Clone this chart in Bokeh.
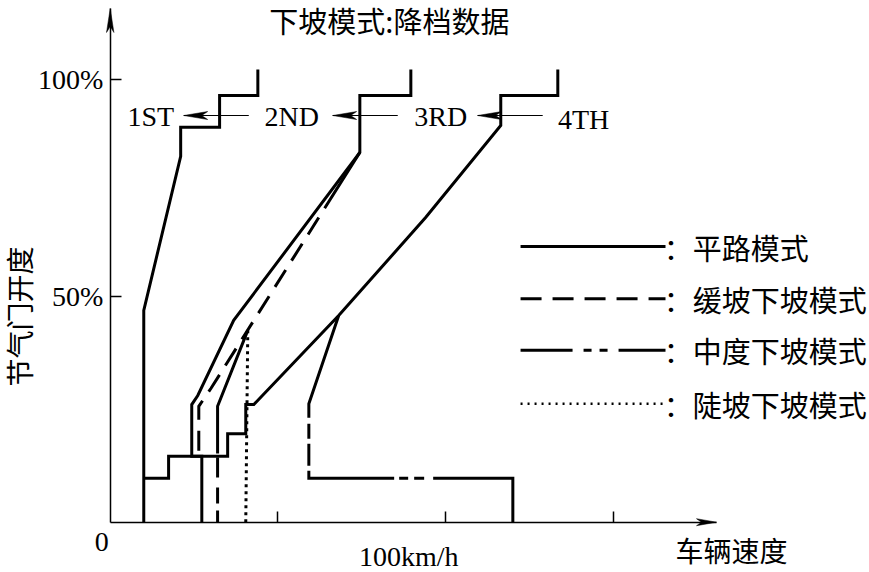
import math
from bokeh.plotting import figure
from bokeh.models import Range1d, FixedTicker, Label, LinearAxis
from bokeh.embed import file_html
from bokeh.resources import INLINE

# ---------------- data (x: vehicle speed km/h, y: throttle opening %) ----------------
# flat-road mode (solid)
flat_21_x = [44.0, 44.0, 32.6, 32.6, 21.0, 21.0, 10.0, 10.0]
flat_21_y = [102.3, 96.3, 96.3, 89.0, 89.0, 82.3, 46.8, -2.0]
flat_32_x = [89.6, 89.6, 74.4, 74.4, 36.8, 26.1, 24.3, 24.3, 27.3, 27.3]
flat_32_y = [102.3, 96.3, 96.3, 83.2, 44.5, 27.2, 25.1, 13.2, 13.2, -2.0]
flat_43_x = [133.4, 133.4, 116.4, 116.4, 94.0, 68.1, 42.8, 40.4, 40.4, 35.0, 35.0, 17.4, 17.4, 10.0]
flat_43_y = [102.3, 96.3, 96.3, 89.4, 68.2, 45.6, 25.1, 25.1, 18.4, 18.4, 13.2, 13.2, 8.1, 8.1]
# gentle downhill mode (dashed)
gentle_32_x = [74.4, 30.0, 26.4, 26.4]
gentle_32_y = [83.2, 28.8, 24.7, 13.2]
# moderate downhill mode (dash-dot)
moderate_32_x = [41.0, 32.0, 32.0]
moderate_32_y = [42.2, 24.7, -2.0]
moderate_43_x = [68.1, 59.2, 59.2, 120.0, 120.0]
moderate_43_y = [45.6, 25.3, 8.1, 8.1, -2.0]
# steep downhill mode (dotted)
steep_32_x = [41.0, 40.4]
steep_32_y = [42.2, -2.0]

# gear labels and their arrows
gear_labels = ["1ST", "2ND", "3RD", "4TH"]
gear_label_x = [12.1, 54.1, 98.5, 141.1]
gear_label_y = [91.5, 91.5, 91.5, 90.8]
arrow_from_x = [41.3, 85.7, 128.9]
arrow_to_x = [21.9, 66.3, 109.5]
arrow_y = [91.7, 91.7, 91.7]

# axes
x_ticks = [50, 100, 150]
y_ticks = [50, 100]
y_tick_labels = ["50%", "100%"]
X_MIN, X_MAX = -32.7, 226.3
Y_MIN, Y_MAX = -13.59, 118.2
X_AXIS_Y = -2.0
X_AXIS_END = 180.7
Y_AXIS_END = 116.36

# legend
legend_labels = ["：平路模式", "：缓坡下坡模式", "：中度下坡模式", "：陡坡下坡模式"]
legend_y = [61.5, 49.5, 37.6, 25.3]
legend_x0, legend_x1, legend_text_x = 122.3, 165.5, 165.0

TITLE = "下坡模式:降档数据"
Y_LABEL = "节气门开度"
X_LABEL = "车辆速度"
SPEED_LABEL = "100km/h"

# ---------------- styles ----------------
CJK = "Noto Sans CJK SC"
SERIF = "Liberation Serif"
DASH_GENTLE = "66 11 20 11 20 11 20 11 20 11 20 11 20 11 20 11 20 11 20 11 20 11 40 1"
DASH_MOD_32 = "129 4 20 10 16 7 40 1"
DASH_MOD_43 = "107 6 15 5 22 5 93 5 9 6 10 9 130 1"
legend_dash = ["solid", "21 11", "52 11 8 8 8 11", "2 5"]
legend_width = [3, 3, 3, 2.5]

W, H = 869, 572
p = figure(width=W, height=H, x_range=Range1d(X_MIN, X_MAX), y_range=Range1d(Y_MIN, Y_MAX),
           output_backend="svg", toolbar_location=None, tools="", title=None,
           x_axis_location=None, y_axis_location=None,
           min_border=0, min_border_left=0, min_border_right=0, min_border_top=0, min_border_bottom=0)
p.grid.visible = False
p.outline_line_color = None
p.background_fill_color = "white"

px_x = W / (X_MAX - X_MIN)
px_y = H / (Y_MAX - Y_MIN)

xa = LinearAxis(fixed_location=X_AXIS_Y, ticker=FixedTicker(ticks=x_ticks),
                major_label_overrides={t: "" for t in x_ticks}, major_label_text_font_size="2px",
                bounds=(0, X_AXIS_END))
ya = LinearAxis(fixed_location=0, ticker=FixedTicker(ticks=y_ticks),
                major_label_overrides={t: s for t, s in zip(y_ticks, y_tick_labels)},
                major_label_text_font=SERIF, major_label_text_font_size="28px",
                major_label_standoff=7, bounds=(X_AXIS_Y, Y_AXIS_END))
for ax in (xa, ya):
    ax.axis_line_width = 1.5
    ax.axis_line_color = "black"
    ax.major_tick_in = 11
    ax.major_tick_out = 0
    ax.major_tick_line_width = 1.5
    ax.major_tick_line_color = "black"
    ax.minor_tick_line_color = None
    ax.major_label_text_color = "black"
p.add_layout(xa, "below")
p.add_layout(ya, "left")

# curves
lw = 3
p.line(flat_21_x, flat_21_y, line_width=lw, color="black", line_join="miter")
p.line(flat_32_x, flat_32_y, line_width=lw, color="black", line_join="miter")
p.line(flat_43_x, flat_43_y, line_width=lw, color="black", line_join="miter")
p.line(gentle_32_x, gentle_32_y, line_width=lw, color="black", line_join="miter", line_dash=DASH_GENTLE)
p.line(moderate_32_x, moderate_32_y, line_width=lw, color="black", line_join="miter", line_dash=DASH_MOD_32)
p.line(moderate_43_x, moderate_43_y, line_width=lw, color="black", line_join="miter", line_dash=DASH_MOD_43)
p.line(steep_32_x, steep_32_y, line_width=3, color="black", line_dash="3 4")

# gear arrows
p.segment(x0=arrow_from_x, y0=arrow_y, x1=arrow_to_x, y1=arrow_y, line_width=1.2, color="black")
L = 24 / px_x
w = 4 / px_y
hx = [[tx, tx + L, tx + 0.75 * L, tx + L] for tx in arrow_to_x]
hy = [[ty, ty + w, ty, ty - w] for ty in arrow_y]
p.patches(hx, hy, fill_color="black", line_color="black", line_width=0.5)

for t, gx, gy in zip(gear_labels, gear_label_x, gear_label_y):
    p.add_layout(Label(x=gx, y=gy, text=t, text_font=SERIF, text_font_size="28px",
                       text_align="center", text_baseline="middle", text_color="black"))

# axis arrow heads
Ly, wy = 24 / px_y, 3.7 / px_x
Lx, wx = 20 / px_x, 3.5 / px_y
p.patches([[0, -wy, 0, wy],
           [X_AXIS_END, X_AXIS_END - Lx, X_AXIS_END - 0.75 * Lx, X_AXIS_END - Lx]],
          [[Y_AXIS_END, Y_AXIS_END - Ly, Y_AXIS_END - 0.75 * Ly, Y_AXIS_END - Ly],
           [X_AXIS_Y, X_AXIS_Y + wx, X_AXIS_Y, X_AXIS_Y - wx]],
          fill_color="black", line_color="black", line_width=0.5)

# legend
for lab, ly, dsh, lwd in zip(legend_labels, legend_y, legend_dash, legend_width):
    p.line([legend_x0, legend_x1], [ly, ly], line_width=lwd, color="black", line_dash=dsh)
    p.add_layout(Label(x=legend_text_x, y=ly, text=lab, text_font=CJK, text_font_size="29px",
                       text_align="left", text_baseline="middle", text_color="black"))

# texts
p.add_layout(Label(x=83.2, y=113.6, text=TITLE, text_font=CJK, text_font_size="29px",
                   text_align="center", text_baseline="middle", text_color="black"))
p.add_layout(Label(x=-27.3, y=45.4, text=Y_LABEL, text_font=CJK, text_font_size="28px", angle=math.pi / 2,
                   text_align="center", text_baseline="middle", text_color="black"))
p.add_layout(Label(x=-2.56, y=-6.45, text="0", text_font=SERIF, text_font_size="28px",
                   text_align="center", text_baseline="middle", text_color="black"))
p.add_layout(Label(x=88.97, y=-9.9, text=SPEED_LABEL, text_font=SERIF, text_font_size="28px",
                   text_align="center", text_baseline="middle", text_color="black"))
p.add_layout(Label(x=185.2, y=-8.5, text=X_LABEL, text_font=CJK, text_font_size="28px",
                   text_align="center", text_baseline="middle", text_color="black"))

open("out.html", "w").write(file_html(p, INLINE))
